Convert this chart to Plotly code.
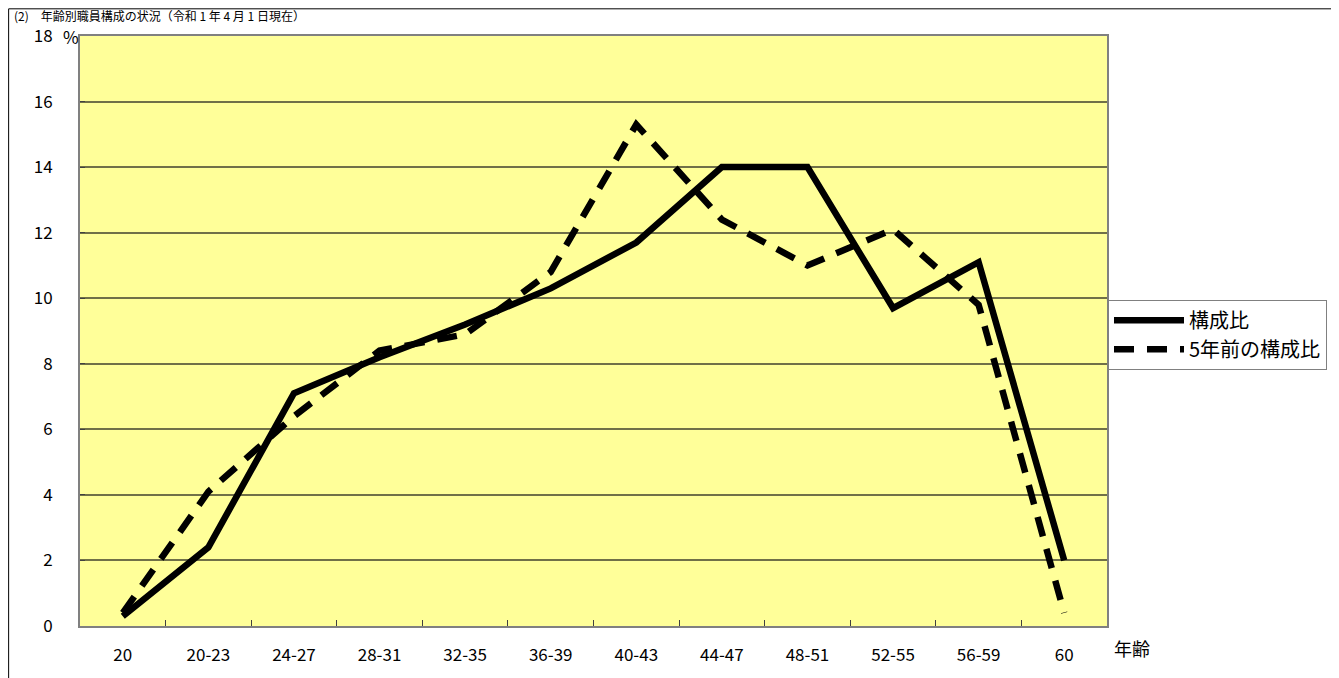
import plotly.graph_objects as go

categories = ["20", "20-23", "24-27", "28-31", "32-35", "36-39", "40-43",
              "44-47", "48-51", "52-55", "56-59", "60"]
current = [0.3, 2.4, 7.1, 8.2, 9.2, 10.3, 11.7, 14.0, 14.0, 9.7, 11.1, 2.0]
five_years_ago = [0.4, 4.1, 6.4, 8.4, 8.9, 10.8, 15.3, 12.4, 11.0, 12.1, 9.8, 0.4]
y_ticks = [0, 2, 4, 6, 8, 10, 12, 14, 16, 18]

FONT = "Noto Sans CJK JP, Noto Sans, sans-serif"

fig = go.Figure()
fig.add_trace(go.Scatter(x=categories, y=current, name="構成比", mode="lines",
                         line=dict(color="black", width=6.5)))
fig.add_trace(go.Scatter(x=categories, y=five_years_ago, name="5年前の構成比", mode="lines",
                         line=dict(color="black", width=6.5, dash="20px,13px")))

# page offset (body margin) of the browser
OFF = 8
W, H = 1339 - OFF, 678 - OFF
# window-pixel plot box
PL, PR, PT, PB = 80, 1109, 36, 633
L, T = PL - OFF, PT - OFF
R = W - (PR - OFF)
B = H - (PB - OFF)
PW, PH = PR - PL, PB - PT

def px_x(p):
    return (p - PL) / PW

def px_y(p):
    return 1 - (p - PT) / PH

fig.update_layout(
    width=W, height=H,
    margin=dict(l=L, r=R, t=T, b=B),
    paper_bgcolor="white",
    plot_bgcolor="#FFFF99",
    font=dict(family=FONT, size=17, color="black"),
    showlegend=True,
    legend=dict(x=px_x(1110), y=px_y(303), xanchor="left", yanchor="top",
                bgcolor="white", bordercolor="#808080", borderwidth=1,
                font=dict(size=20, family=FONT), tracegroupgap=0,
                itemwidth=70),
    xaxis=dict(type="category", categoryorder="array", categoryarray=categories,
               range=[-0.5, len(categories) - 0.5],
               showgrid=False, zeroline=False,
               showline=True, linecolor="#808080", linewidth=2, mirror=True,
               ticks="inside", ticklen=6, tickcolor="#404040", tickson="boundaries",
               ticklabelstandoff=13,
               tickfont=dict(size=17, family=FONT)),
    yaxis=dict(range=[0, 18], tickvals=y_ticks, ticktext=[str(v) for v in y_ticks],
               showgrid=True, gridcolor="#707048", gridwidth=1.5,
               zeroline=False,
               showline=True, linecolor="#808080", linewidth=2, mirror=True,
               ticks="inside", ticklen=5, tickcolor="#404040",
               ticklabelstandoff=22,
               tickfont=dict(size=17, family=FONT)),
    annotations=[
        dict(text="%", xref="paper", yref="y", x=px_x(61), y=18, xanchor="left",
             yanchor="middle", showarrow=False, font=dict(size=17, family=FONT)),
        dict(text="年齢", xref="paper", yref="paper", x=px_x(1114), y=px_y(655),
             xanchor="left", yanchor="middle", showarrow=False,
             font=dict(size=18, family=FONT)),
        dict(text="(2)　年齢別職員構成の状況（令和 1 年 4 月 1 日現在）", xref="paper", yref="paper",
             x=px_x(12), y=px_y(15), xanchor="left", yanchor="middle", showarrow=False,
             font=dict(size=12, family=FONT)),
    ],
    shapes=[
        dict(type="line", xref="paper", yref="paper", x0=px_x(8.5), x1=px_x(1345),
             y0=px_y(8.5), y1=px_y(8.5), line=dict(color="black", width=1)),
        dict(type="line", xref="paper", yref="paper", x0=px_x(8.5), x1=px_x(8.5),
             y0=px_y(8.5), y1=px_y(690), line=dict(color="black", width=1)),
    ],
)

fig.write_html("out.html")
